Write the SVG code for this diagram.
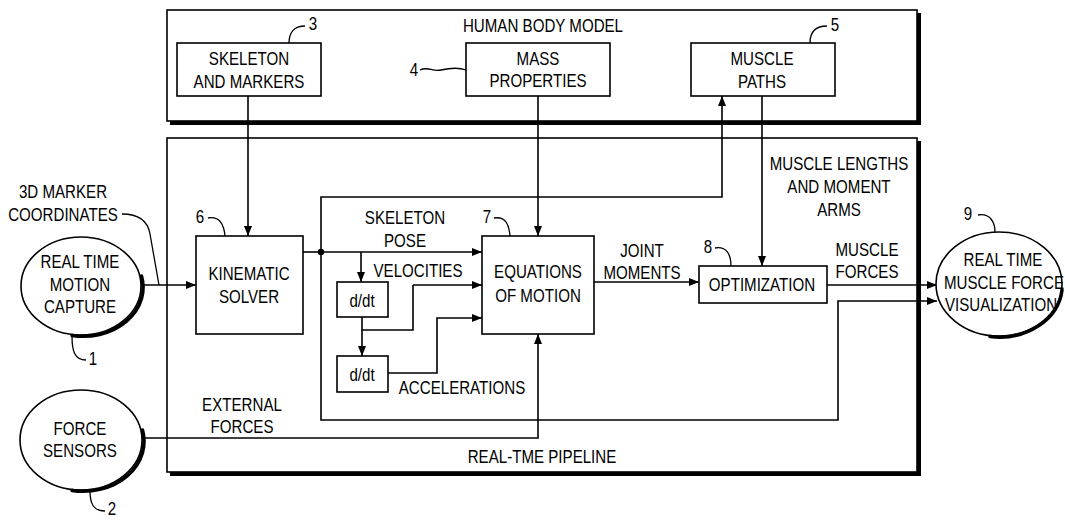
<svg xmlns="http://www.w3.org/2000/svg" width="1065" height="521" viewBox="0 0 1065 521">
<defs>
<marker id="arr" viewBox="0 0 10 8" refX="10" refY="4" markerWidth="10" markerHeight="8" markerUnits="userSpaceOnUse" orient="auto">
<path d="M0,0 L10,4 L0,8 Z" fill="#000"/>
</marker>
<style>
text{font-family:"Liberation Sans",Arial,sans-serif;font-size:18px;fill:#000;text-anchor:middle;transform-box:fill-box;transform-origin:center;transform:scaleX(0.84)}
.box{fill:#fff;stroke:#000;stroke-width:1.6}
.frame{fill:none;stroke:#000;stroke-width:1.6}
.shadow{fill:none;stroke:#000;stroke-width:4}
.eshadow{fill:none;stroke:#000;stroke-width:3.5;stroke-linecap:round}
.ln{fill:none;stroke:#000;stroke-width:1.6}
.ar{fill:none;stroke:#000;stroke-width:1.6;marker-end:url(#arr)}
.lead{fill:none;stroke:#000;stroke-width:1.3}
</style>
</defs>
<rect width="1065" height="521" fill="#fff"/>

<g id="human-body-model">
<rect class="frame" x="167" y="10" width="750" height="111"/>
<path class="shadow" d="M170,123 H919 V13"/>
<text x="543" y="32">HUMAN BODY MODEL</text>
</g>

<g id="pipeline">
<rect class="frame" x="167" y="138" width="750" height="334"/>
<path class="shadow" d="M170,474 H919 V141"/>
<text x="542" y="463">REAL-TME PIPELINE</text>
</g>

<g id="connectors">
<path class="ar" d="M248,96 V236"/>
<path class="ar" d="M538,96 V236"/>
<path class="ar" d="M762,96 V266"/>
<path class="ar" d="M142,285 H196"/>
<path class="ln" d="M303,252 H321"/>
<path class="ar" d="M321,252 H482"/>
<path class="ar" d="M321,252 V197 H722 V96"/>
<path class="ar" d="M321,252 V420 H838 V301 H937"/>
<path class="ar" d="M361,252 V282"/>
<path class="ln" d="M362,317 V330 H413 V285"/>
<path class="ar" d="M413,285 H482"/>
<path class="ar" d="M362,330 V356"/>
<path class="ar" d="M388,373 H437 V318 H482"/>
<path class="ar" d="M142,438 H538 V334"/>
<path class="ar" d="M594,282 H699"/>
<path class="ar" d="M827,285 H937"/>
<circle cx="321" cy="252" r="3.2" fill="#000"/>
<path class="lead" d="M122,214 C140,214 148,222 150,234 L159,285"/>
<text x="63" y="198">3D MARKER</text>
<text x="63" y="221">COORDINATES</text>
<text x="405" y="224">SKELETON</text>
<text x="405" y="247">POSE</text>
<text x="418" y="277">VELOCITIES</text>
<text x="462" y="394">ACCELERATIONS</text>
<text x="242" y="411">EXTERNAL</text>
<text x="242" y="433">FORCES</text>
<text x="642" y="257">JOINT</text>
<text x="642" y="279">MOMENTS</text>
<text x="839" y="170">MUSCLE LENGTHS</text>
<text x="839" y="193">AND MOMENT</text>
<text x="839" y="216">ARMS</text>
<text x="867" y="256">MUSCLE</text>
<text x="867" y="278">FORCES</text>
</g>

<g id="skeleton">
<rect class="box" x="177" y="43" width="144" height="53"/>
<text x="249" y="65">SKELETON</text>
<text x="249" y="88">AND MARKERS</text>
<path class="lead" d="M289,43 C289,33 294,26 305,26"/>
<text x="313" y="30">3</text>
</g>

<g id="mass">
<rect class="box" x="466" y="43" width="144" height="53"/>
<text x="538" y="65">MASS</text>
<text x="538" y="87">PROPERTIES</text>
<path class="lead" d="M420,70 C428,66 432,72 441,70 S458,67 466,70"/>
<text x="414" y="76">4</text>
</g>

<g id="muscle-paths">
<rect class="box" x="691" y="43" width="144" height="53"/>
<text x="762" y="65">MUSCLE</text>
<text x="762" y="88">PATHS</text>
<path class="lead" d="M810,43 C810,33 815,26 827,26"/>
<text x="835" y="31">5</text>
</g>

<g id="kinematic">
<rect class="box" x="196" y="236" width="107" height="98"/>
<text x="249" y="280">KINEMATIC</text>
<text x="249" y="303">SOLVER</text>
<path class="lead" d="M208,218 C220,216 224,225 225,236"/>
<text x="200" y="223">6</text>
</g>

<g id="equations">
<rect class="box" x="482" y="236" width="112" height="98"/>
<text x="538" y="278">EQUATIONS</text>
<text x="538" y="302">OF MOTION</text>
<path class="lead" d="M494,218 C506,216 509,225 510,236"/>
<text x="487" y="223">7</text>
</g>

<g id="ddt1">
<rect class="box" x="337" y="282" width="51" height="35"/>
<text x="362" y="307">d/dt</text>
</g>

<g id="ddt2">
<rect class="box" x="337" y="356" width="51" height="36"/>
<text x="362" y="381">d/dt</text>
</g>

<g id="optimization">
<rect class="box" x="699" y="266" width="128" height="37"/>
<text x="762" y="291">OPTIMIZATION</text>
<path class="lead" d="M715,248 C727,246 731,255 731,266"/>
<text x="708" y="253">8</text>
</g>

<g id="motion-capture">
<ellipse class="box" cx="81" cy="286" rx="60" ry="49"/>
<path class="eshadow" d="M141.5,276 A60,49 0 0 1 72,335.5"/>
<text x="80" y="268">REAL TIME</text>
<text x="80" y="291">MOTION</text>
<text x="80" y="313">CAPTURE</text>
<path class="lead" d="M72,336 C72,350 74,360 86,360"/>
<text x="93" y="365">1</text>
</g>

<g id="force-sensors">
<ellipse class="box" cx="81" cy="440" rx="61" ry="50"/>
<path class="eshadow" d="M142.5,430 A61,50 0 0 1 72,490.5"/>
<text x="80" y="435">FORCE</text>
<text x="80" y="457">SENSORS</text>
<path class="lead" d="M90,491 C90,503 93,511 105,511"/>
<text x="112" y="515">2</text>
</g>

<g id="visualization">
<ellipse class="box" cx="999" cy="284" rx="63" ry="52"/>
<path class="eshadow" d="M1062,290 A63,52 0 0 1 990,336.5"/>
<text x="1003" y="266">REAL TIME</text>
<text x="1004" y="289">MUSCLE FORCE</text>
<text x="1001" y="311">VISUALIZATION</text>
<path class="lead" d="M978,215 C990,213 995,222 995,232"/>
<text x="968" y="220">9</text>
</g>
</svg>
